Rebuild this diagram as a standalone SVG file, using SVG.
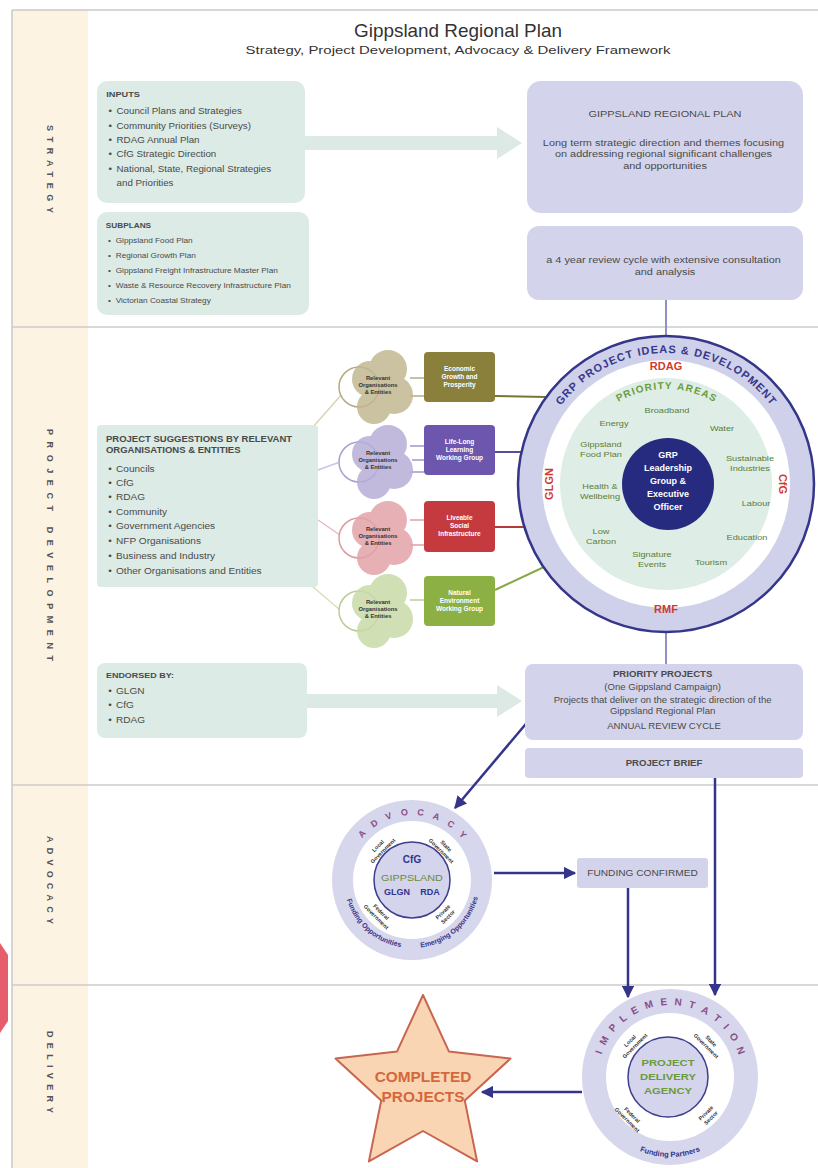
<svg xmlns="http://www.w3.org/2000/svg" width="818" height="1168" viewBox="0 0 818 1168">
<style>
text{font-family:"Liberation Sans",Arial,sans-serif}
.t{fill:#4a4a4a}
.b{font-weight:bold}
.c{text-anchor:middle}
.green{fill:#dcebe5}
.lav{fill:#d3d4eb}
.lbl{font-size:9px;font-weight:bold;fill:#555}
.pa{font-size:8px;fill:#5b7d38;text-anchor:middle}
.red{font-size:11px;font-weight:bold;fill:#cf3a2f;text-anchor:middle}
.wb{font-size:6.5px;font-weight:bold;fill:#fff;text-anchor:middle}
.cl{font-size:5.8px;font-weight:bold;fill:#333;text-anchor:middle}
.dg{font-size:5.5px;font-weight:bold;fill:#333;text-anchor:middle}
.nav{fill:#33348a;font-weight:bold}
.ring{font-size:11px;font-weight:bold;fill:#35398c;letter-spacing:1px}
.pr{font-size:10px;font-weight:bold;fill:#6a9c3a;letter-spacing:1.2px}
.adv{font-size:9px;font-weight:bold;fill:#8a4f86;text-anchor:middle}
.imp{font-size:10px;font-weight:bold;fill:#8a4f86;text-anchor:middle}
.arr{stroke:#34348a;stroke-width:2.5;fill:none;marker-end:url(#ah)}
.vl{stroke:#9091c2;stroke-width:2;fill:none}
</style>
<defs>
<marker id="ah" viewBox="0 0 10 10" refX="9" refY="5" markerWidth="5" markerHeight="5" orient="auto"><path d="M0,0 L10,5 L0,10 z" fill="#34348a"/></marker>
<path id="arcBig" d="M535,484 A131,131 0 0 1 797,484"/>
<path id="arcPA" d="M571,484 A95,95 0 0 1 761,484"/>
<path id="arcAdv" d="M347,880 A65,65 0 0 1 477,880"/>
<path id="arcAdvB" d="M344,880 A68,68 0 0 0 480,880"/>
<path id="arcImp" d="M598,1077 A72,72 0 0 1 742,1077"/>
<path id="arcImpB" d="M590,1077 A80,80 0 0 0 750,1077"/>
</defs>

<g id="lanes">
<rect x="12" y="10" width="76" height="1158" fill="#fdf3e2"/>
<line x1="12" y1="10" x2="818" y2="10" stroke="#c9c9c9" stroke-width="1.5"/>
<line x1="12" y1="10" x2="12" y2="1168" stroke="#c9c9c9" stroke-width="1.5"/>
<line x1="12" y1="327" x2="818" y2="327" stroke="#cdcdcd" stroke-width="1.5"/>
<line x1="12" y1="785" x2="818" y2="785" stroke="#cdcdcd" stroke-width="1.5"/>
<line x1="12" y1="985" x2="818" y2="985" stroke="#cdcdcd" stroke-width="1.5"/>
<path d="M0,943 L8,955 L8,1021 L0,1033 Z" fill="#e65d6b"/>
<text class="lbl" transform="translate(50,125) rotate(90)" dominant-baseline="central" textLength="88" lengthAdjust="spacing">STRATEGY</text>
<text class="lbl" transform="translate(50,429) rotate(90)" dominant-baseline="central" textLength="232" lengthAdjust="spacing">PROJECT DEVELOPMENT</text>
<text class="lbl" transform="translate(50,836) rotate(90)" dominant-baseline="central" textLength="88" lengthAdjust="spacing">ADVOCACY</text>
<text class="lbl" transform="translate(50,1031) rotate(90)" dominant-baseline="central" textLength="82" lengthAdjust="spacing">DELIVERY</text>
</g>

<g id="title">
<text transform="matrix(1.05,0,0,1,-22.9,0)" x="458" y="37" class="c" style="font-size:18px;fill:#333">Gippsland Regional Plan</text>
<text transform="matrix(1.3,0,0,1,-137.4,0)" x="458" y="54" class="c" style="font-size:11.5px;fill:#333">Strategy, Project Development, Advocacy &amp; Delivery Framework</text>
</g>

<g id="connectors">
<polygon points="305,136 497,136 497,127 522,143 497,159 497,150 305,150" fill="#dce9e4"/>
<polygon points="307,694 497,694 497,685 522,701 497,717 497,708 307,708" fill="#dce9e4"/>
<line class="vl" x1="666" y1="300" x2="666" y2="336"/>
<line class="vl" x1="666" y1="632" x2="666" y2="664"/>
<line x1="312" y1="428" x2="343" y2="393" stroke="#d9d3b8" stroke-width="1.5"/>
<line x1="318" y1="470" x2="340" y2="462" stroke="#cbc4e4" stroke-width="1.5"/>
<line x1="318" y1="520" x2="340" y2="535" stroke="#ebb8bb" stroke-width="1.5"/>
<line x1="312" y1="586" x2="340" y2="610" stroke="#d3e2bb" stroke-width="1.5"/>
<line x1="410" y1="378" x2="424" y2="378" stroke="#9e9468" stroke-width="1.2"/>
<line x1="410" y1="396" x2="424" y2="396" stroke="#9e9468" stroke-width="1.2"/>
<line x1="410" y1="446" x2="424" y2="446" stroke="#8a7cc0" stroke-width="1.2"/>
<line x1="412" y1="460" x2="424" y2="460" stroke="#8a7cc0" stroke-width="1.2"/>
<line x1="410" y1="472" x2="424" y2="472" stroke="#8a7cc0" stroke-width="1.2"/>
<line x1="410" y1="520" x2="424" y2="520" stroke="#d08a8e" stroke-width="1.2"/>
<line x1="410" y1="545" x2="424" y2="545" stroke="#d08a8e" stroke-width="1.2"/>
<line x1="410" y1="600" x2="424" y2="600" stroke="#a9c07f" stroke-width="1.2"/>
<line x1="495" y1="396" x2="547" y2="397" stroke="#7d7235" stroke-width="2"/>
<line x1="495" y1="452" x2="522" y2="452" stroke="#5d4a9e" stroke-width="2"/>
<line x1="495" y1="527" x2="524" y2="527" stroke="#b53a3c" stroke-width="2"/>
<line x1="495" y1="590" x2="544" y2="567" stroke="#8aa84a" stroke-width="2"/>
<line class="arr" x1="530" y1="719" x2="455" y2="808"/>
<line class="arr" x1="715" y1="778" x2="715" y2="995"/>
<line class="arr" x1="494" y1="873" x2="575" y2="873"/>
<line class="arr" x1="628" y1="888" x2="628" y2="997"/>
<line class="arr" x1="582" y1="1092" x2="482" y2="1092"/>
</g>

<g id="inputs">
<rect x="97" y="81" width="208" height="122" rx="10" class="green"/>
<g transform="matrix(1.15,0,0,1,-14.55,0)">
<text x="105" y="97" class="t b" style="font-size:8px">INPUTS</text>
<text class="t" style="font-size:8.5px"><tspan x="107" y="114">•</tspan><tspan x="114" y="114">Council Plans and Strategies</tspan>
<tspan x="107" y="129">•</tspan><tspan x="114" y="129">Community Priorities (Surveys)</tspan>
<tspan x="107" y="143">•</tspan><tspan x="114" y="143">RDAG Annual Plan</tspan>
<tspan x="107" y="157">•</tspan><tspan x="114" y="157">CfG Strategic Direction</tspan>
<tspan x="107" y="172">•</tspan><tspan x="114" y="172">National, State, Regional Strategies</tspan>
<tspan x="114" y="186">and Priorities</tspan></text>
</g>
</g>

<g id="subplans">
<rect x="97" y="212" width="212" height="103" rx="10" class="green"/>
<g transform="matrix(1.1,0,0,1,-9.7,0)">
<text x="105" y="228" class="t b" style="font-size:7.5px">SUBPLANS</text>
<text class="t" style="font-size:7.5px"><tspan x="107" y="243">•</tspan><tspan x="114" y="243">Gippsland Food Plan</tspan>
<tspan x="107" y="258">•</tspan><tspan x="114" y="258">Regional Growth Plan</tspan>
<tspan x="107" y="273">•</tspan><tspan x="114" y="273">Gippsland Freight Infrastructure Master Plan</tspan>
<tspan x="107" y="288">•</tspan><tspan x="114" y="288">Waste &amp; Resource Recovery Infrastructure Plan</tspan>
<tspan x="107" y="303">•</tspan><tspan x="114" y="303">Victorian Coastal Strategy</tspan></text>
</g>
</g>

<g id="grp">
<rect x="527" y="81" width="276" height="132" rx="14" class="lav"/>
<g transform="matrix(1.15,0,0,1,-99.75,0)">
<text x="665" y="117" class="t c" style="font-size:9.5px">GIPPSLAND REGIONAL PLAN</text>
<text class="t c" style="font-size:9.5px"><tspan x="665" y="146">Long term strategic direction and themes focusing</tspan>
<tspan x="665" y="157.5">on addressing regional significant challenges</tspan>
<tspan x="665" y="169">and opportunities</tspan></text>
</g>
</g>

<g id="review">
<rect x="527" y="226" width="276" height="74" rx="12" class="lav"/>
<g transform="matrix(1.15,0,0,1,-99.75,0)">
<text class="t c" style="font-size:9.5px"><tspan x="665" y="263">a 4 year review cycle with extensive consultation</tspan>
<tspan x="665" y="275">and analysis</tspan></text>
</g>
</g>

<g id="suggestions">
<rect x="97" y="425" width="221" height="162" rx="4" class="green"/>
<g transform="matrix(1.12,0,0,1,-11.64,0)">
<text class="t b" style="font-size:8.5px"><tspan x="105" y="442">PROJECT SUGGESTIONS BY RELEVANT</tspan>
<tspan x="105" y="453">ORGANISATIONS &amp; ENTITIES</tspan></text>
<text class="t" style="font-size:9px"><tspan x="107" y="472">•</tspan><tspan x="114" y="472">Councils</tspan>
<tspan x="107" y="486">•</tspan><tspan x="114" y="486">CfG</tspan>
<tspan x="107" y="500">•</tspan><tspan x="114" y="500">RDAG</tspan>
<tspan x="107" y="515">•</tspan><tspan x="114" y="515">Community</tspan>
<tspan x="107" y="529">•</tspan><tspan x="114" y="529">Government Agencies</tspan>
<tspan x="107" y="544">•</tspan><tspan x="114" y="544">NFP Organisations</tspan>
<tspan x="107" y="559">•</tspan><tspan x="114" y="559">Business and Industry</tspan>
<tspan x="107" y="574">•</tspan><tspan x="114" y="574">Other Organisations and Entities</tspan></text>
</g>
</g>

<g id="cluster1">
<circle cx="359" cy="387" r="20" fill="#fff" stroke="#b4ab86" stroke-width="1.5"/>
<g fill="#c1b891" opacity="0.85"><circle cx="388" cy="369" r="19"/><circle cx="394" cy="395" r="19"/><circle cx="374" cy="407" r="17"/><circle cx="370" cy="379" r="18"/></g>
<text class="cl"><tspan x="378" y="380">Relevant</tspan><tspan x="378" y="387">Organisations</tspan><tspan x="378" y="394">&amp; Entities</tspan></text>
</g>
<g id="cluster2">
<circle cx="359" cy="462" r="20" fill="#fff" stroke="#a99fd0" stroke-width="1.5"/>
<g fill="#b7afd8" opacity="0.85"><circle cx="388" cy="444" r="19"/><circle cx="394" cy="470" r="19"/><circle cx="374" cy="482" r="17"/><circle cx="370" cy="454" r="18"/></g>
<text class="cl"><tspan x="378" y="455">Relevant</tspan><tspan x="378" y="462">Organisations</tspan><tspan x="378" y="469">&amp; Entities</tspan></text>
</g>
<g id="cluster3">
<circle cx="359" cy="538" r="20" fill="#fff" stroke="#dc9aa0" stroke-width="1.5"/>
<g fill="#e2a3a8" opacity="0.85"><circle cx="388" cy="520" r="19"/><circle cx="394" cy="546" r="19"/><circle cx="374" cy="558" r="17"/><circle cx="370" cy="530" r="18"/></g>
<text class="cl"><tspan x="378" y="531">Relevant</tspan><tspan x="378" y="538">Organisations</tspan><tspan x="378" y="545">&amp; Entities</tspan></text>
</g>
<g id="cluster4">
<circle cx="359" cy="611" r="20" fill="#fff" stroke="#b9cd93" stroke-width="1.5"/>
<g fill="#c9daa9" opacity="0.85"><circle cx="388" cy="593" r="19"/><circle cx="394" cy="619" r="19"/><circle cx="374" cy="631" r="17"/><circle cx="370" cy="603" r="18"/></g>
<text class="cl"><tspan x="378" y="604">Relevant</tspan><tspan x="378" y="611">Organisations</tspan><tspan x="378" y="618">&amp; Entities</tspan></text>
</g>

<g id="wg1">
<rect x="424" y="352" width="71" height="50" rx="4" fill="#8b7f3c"/>
<text class="wb"><tspan x="459.5" y="371">Economic</tspan><tspan x="459.5" y="379">Growth and</tspan><tspan x="459.5" y="387">Prosperity</tspan></text>
</g>
<g id="wg2">
<rect x="424" y="425" width="71" height="50" rx="4" fill="#6d56ad"/>
<text class="wb"><tspan x="459.5" y="444">Life-Long</tspan><tspan x="459.5" y="452">Learning</tspan><tspan x="459.5" y="460">Working Group</tspan></text>
</g>
<g id="wg3">
<rect x="424" y="501" width="71" height="51" rx="4" fill="#c43a3e"/>
<text class="wb"><tspan x="459.5" y="520">Liveable</tspan><tspan x="459.5" y="528">Social</tspan><tspan x="459.5" y="536">Infrastructure</tspan></text>
</g>
<g id="wg4">
<rect x="424" y="576" width="71" height="50" rx="4" fill="#8cb043"/>
<text class="wb"><tspan x="459.5" y="595">Natural</tspan><tspan x="459.5" y="603">Environment</tspan><tspan x="459.5" y="611">Working Group</tspan></text>
</g>

<g id="grp-circle">
<circle cx="666" cy="484" r="148" fill="#cfd0ea" stroke="#35358a" stroke-width="2.5"/>
<circle cx="666" cy="484" r="124" fill="#fff"/>
<circle cx="666" cy="484" r="106" fill="#deede6"/>
<text class="ring"><textPath href="#arcBig" startOffset="83.7">GRP</textPath></text>
<text class="ring"><textPath href="#arcBig" startOffset="114.6">PROJECT</textPath></text>
<text class="ring"><textPath href="#arcBig" startOffset="177.6">IDEAS</textPath></text>
<text class="ring"><textPath href="#arcBig" startOffset="220.3">&amp;</textPath></text>
<text class="ring"><textPath href="#arcBig" startOffset="233.3">DEVEL</textPath></text>
<text class="ring"><textPath href="#arcBig" startOffset="274.97">OPMENT</textPath></text>
<text class="pr"><textPath href="#arcPA" startOffset="98.9">PRIORITY</textPath></text>
<text class="pr"><textPath href="#arcPA" startOffset="159.7">AREAS</textPath></text>
<text x="666" y="370" class="red">RDAG</text>
<text x="666" y="613" class="red">RMF</text>
<text class="red" transform="translate(549,484) rotate(-90)" dominant-baseline="central">GLGN</text>
<text class="red" transform="translate(783,484) rotate(90)" dominant-baseline="central">CfG</text>
<text class="pa" transform="translate(667,413) scale(1.15,1)">Broadband</text>
<text class="pa" transform="translate(722,431) scale(1.15,1)">Water</text>
<text class="pa" transform="translate(750,461) scale(1.15,1)"><tspan x="0" y="0">Sustainable</tspan><tspan x="0" y="10">Industries</tspan></text>
<text class="pa" transform="translate(756,506) scale(1.15,1)">Labour</text>
<text class="pa" transform="translate(747,540) scale(1.15,1)">Education</text>
<text class="pa" transform="translate(711,565) scale(1.15,1)">Tourism</text>
<text class="pa" transform="translate(652,557) scale(1.15,1)"><tspan x="0" y="0">Signature</tspan><tspan x="0" y="10">Events</tspan></text>
<text class="pa" transform="translate(601,534) scale(1.15,1)"><tspan x="0" y="0">Low</tspan><tspan x="0" y="10">Carbon</tspan></text>
<text class="pa" transform="translate(600,489) scale(1.15,1)"><tspan x="0" y="0">Health &amp;</tspan><tspan x="0" y="10">Wellbeing</tspan></text>
<text class="pa" transform="translate(601,447) scale(1.15,1)"><tspan x="0" y="0">Gippsland</tspan><tspan x="0" y="10">Food Plan</tspan></text>
<text class="pa" transform="translate(614,426) scale(1.15,1)">Energy</text>
<circle cx="668" cy="484" r="46" fill="#262b80"/>
<text style="font-size:9px;font-weight:bold;fill:#fff" class="c"><tspan x="668" y="458">GRP</tspan><tspan x="668" y="471">Leadership</tspan><tspan x="668" y="484">Group &amp;</tspan><tspan x="668" y="497">Executive</tspan><tspan x="668" y="510">Officer</tspan></text>
</g>

<g id="endorsed">
<rect x="97" y="663" width="210" height="75" rx="8" class="green"/>
<g transform="matrix(1.12,0,0,1,-11.64,0)">
<text x="105" y="678" class="t b" style="font-size:8px">ENDORSED BY:</text>
<text class="t" style="font-size:9px"><tspan x="107" y="694">•</tspan><tspan x="114" y="694">GLGN</tspan>
<tspan x="107" y="708">•</tspan><tspan x="114" y="708">CfG</tspan>
<tspan x="107" y="723">•</tspan><tspan x="114" y="723">RDAG</tspan></text>
</g>
</g>

<g id="priority">
<rect x="525" y="664" width="278" height="76" rx="8" class="lav"/>
<g transform="matrix(1.13,0,0,1,-86.32,0)">
<text class="t c" style="font-size:8.5px"><tspan x="664" y="677" class="b">PRIORITY PROJECTS</tspan>
<tspan x="664" y="690">(One Gippsland Campaign)</tspan>
<tspan x="664" y="703">Projects that deliver on the strategic direction of the</tspan>
<tspan x="664" y="714">Gippsland Regional Plan</tspan>
<tspan x="664" y="729">ANNUAL REVIEW CYCLE</tspan></text>
</g>
</g>

<g id="brief">
<rect x="525" y="748" width="278" height="30" rx="4" class="lav"/>
<g transform="matrix(1.13,0,0,1,-86.32,0)">
<text x="664" y="766" class="t c b" style="font-size:8.5px">PROJECT BRIEF</text>
</g>
</g>

<g id="advocacy">
<circle cx="412" cy="880" r="80" fill="#d6d6ec"/>
<circle cx="412" cy="880" r="59" fill="#fff"/>
<text class="adv"><textPath href="#arcAdv" startOffset="48.35">A</textPath></text>
<text class="adv"><textPath href="#arcAdv" startOffset="63.85">D</textPath></text>
<text class="adv"><textPath href="#arcAdv" startOffset="79.1">V</textPath></text>
<text class="adv"><textPath href="#arcAdv" startOffset="94.6">O</textPath></text>
<text class="adv"><textPath href="#arcAdv" startOffset="110.35">C</textPath></text>
<text class="adv"><textPath href="#arcAdv" startOffset="125.85">A</textPath></text>
<text class="adv"><textPath href="#arcAdv" startOffset="141.35">C</textPath></text>
<text class="adv"><textPath href="#arcAdv" startOffset="156.6">Y</textPath></text>
<text style="font-size:7px" class="nav"><textPath href="#arcAdvB" startOffset="27%" text-anchor="middle">Funding Opportunities</textPath></text>
<text style="font-size:7px" class="nav"><textPath href="#arcAdvB" startOffset="73%" text-anchor="middle">Emerging Opportunities</textPath></text>
<g transform="translate(380,848) rotate(-45)"><text class="dg"><tspan x="0" y="-1">Local</tspan><tspan x="0" y="6">Government</tspan></text></g>
<g transform="translate(444,848) rotate(45)"><text class="dg"><tspan x="0" y="-1">State</tspan><tspan x="0" y="6">Government</tspan></text></g>
<g transform="translate(379,914) rotate(45)"><text class="dg"><tspan x="0" y="-1">Federal</tspan><tspan x="0" y="6">Government</tspan></text></g>
<g transform="translate(445,914) rotate(-45)"><text class="dg"><tspan x="0" y="-1">Private</tspan><tspan x="0" y="6">Sector</tspan></text></g>
<circle cx="412" cy="880" r="38" fill="#d4d4ec" stroke="#3d3d8d" stroke-width="1.5"/>
<text x="412" y="863" class="c nav" style="font-size:10px">CfG</text>
<text class="c" transform="translate(412,881) scale(1.2,1)" style="font-size:9px;fill:#6a8a3a">GIPPSLAND</text>
<text x="397" y="895" class="c nav" style="font-size:9px">GLGN</text>
<text x="430" y="895" class="c nav" style="font-size:9px">RDA</text>
</g>

<g id="funding">
<rect x="577" y="858" width="131" height="30" rx="3" class="lav"/>
<g transform="matrix(1.13,0,0,1,-83.525,0)">
<text x="642.5" y="876" class="t c" style="font-size:9px">FUNDING CONFIRMED</text>
</g>
</g>

<g id="implementation">
<circle cx="670" cy="1077" r="88" fill="#d6d6ec"/>
<circle cx="670" cy="1077" r="64" fill="#fff"/>
<text class="imp"><textPath href="#arcImp" startOffset="23.99">I</textPath></text>
<text class="imp"><textPath href="#arcImp" startOffset="36.55">M</textPath></text>
<text class="imp"><textPath href="#arcImp" startOffset="51.05">P</textPath></text>
<text class="imp"><textPath href="#arcImp" startOffset="64.44">L</textPath></text>
<text class="imp"><textPath href="#arcImp" startOffset="77.83">E</textPath></text>
<text class="imp"><textPath href="#arcImp" startOffset="92.33">M</textPath></text>
<text class="imp"><textPath href="#arcImp" startOffset="106.83">E</textPath></text>
<text class="imp"><textPath href="#arcImp" startOffset="120.77">N</textPath></text>
<text class="imp"><textPath href="#arcImp" startOffset="134.44">T</textPath></text>
<text class="imp"><textPath href="#arcImp" startOffset="148.10">A</textPath></text>
<text class="imp"><textPath href="#arcImp" startOffset="161.77">T</textPath></text>
<text class="imp"><textPath href="#arcImp" startOffset="173.21">I</textPath></text>
<text class="imp"><textPath href="#arcImp" startOffset="185.49">O</textPath></text>
<text class="imp"><textPath href="#arcImp" startOffset="199.99">N</textPath></text>
<text style="font-size:7.5px" class="nav"><textPath href="#arcImpB" startOffset="50%" text-anchor="middle">Funding Partners</textPath></text>
<g transform="translate(632,1043) rotate(-45)"><text class="dg"><tspan x="0" y="-1">Local</tspan><tspan x="0" y="6">Government</tspan></text></g>
<g transform="translate(709,1043) rotate(45)"><text class="dg"><tspan x="0" y="-1">State</tspan><tspan x="0" y="6">Government</tspan></text></g>
<g transform="translate(630,1117) rotate(45)"><text class="dg"><tspan x="0" y="-1">Federal</tspan><tspan x="0" y="6">Government</tspan></text></g>
<g transform="translate(708,1115) rotate(-45)"><text class="dg"><tspan x="0" y="-1">Private</tspan><tspan x="0" y="6">Sector</tspan></text></g>
<circle cx="668" cy="1077" r="40" fill="#d4d4ec" stroke="#3d3d8d" stroke-width="1.5"/>
<text class="c" transform="translate(668,0) scale(1.25,1)" style="font-size:9px;font-weight:bold;fill:#6a9a3a"><tspan x="0" y="1066">PROJECT</tspan><tspan x="0" y="1080">DELIVERY</tspan><tspan x="0" y="1094">AGENCY</tspan></text>
</g>

<g id="completed">
<polygon points="423,995 448.9,1051.4 510.5,1058.6 464.8,1100.6 477.1,1161.4 423,1131 368.9,1161.4 381.2,1100.6 335.5,1058.6 397.1,1051.4" fill="#f9d5b3" stroke="#c8654f" stroke-width="2" stroke-linejoin="round"/>
<g transform="matrix(1.1,0,0,1,-42.3,0)">
<text class="c" style="font-size:14px;font-weight:bold;fill:#d4683c"><tspan x="423" y="1082">COMPLETED</tspan><tspan x="423" y="1102">PROJECTS</tspan></text>
</g>
</g>
</svg>
